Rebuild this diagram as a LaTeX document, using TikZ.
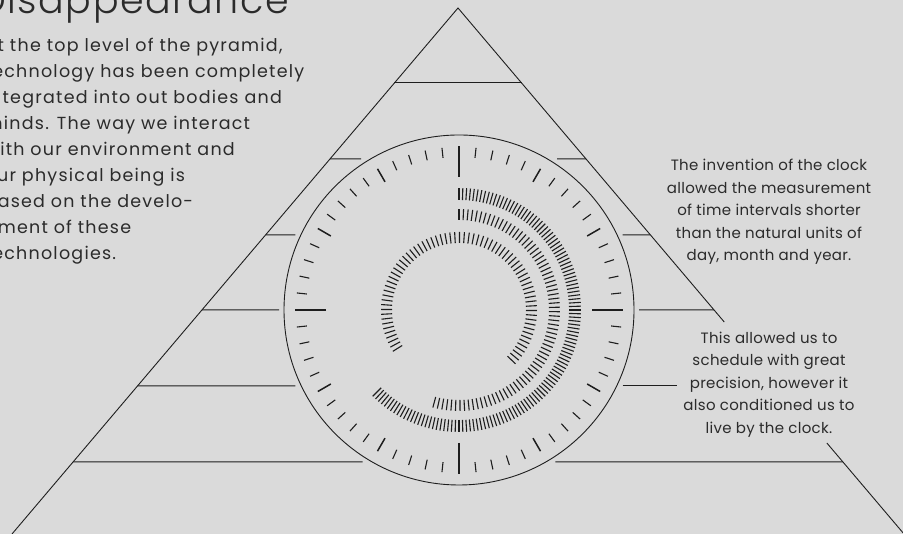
\documentclass[tikz,border=0pt]{standalone}
\usepackage{fontspec}
\setmainfont{Poppins}
\IfFontExistsTF{Poppins Light}{\newfontfamily\titlefont[LetterSpace=4]{Poppins Light}}{\newfontfamily\titlefont[LetterSpace=4]{Poppins}}
\newfontfamily\introfont[LetterSpace=7]{Poppins}
\newfontfamily\notefont[LetterSpace=2]{Poppins}
\usetikzlibrary{calc}
\definecolor{bg}{HTML}{DADADA}
\definecolor{ink}{HTML}{1E1E1E}
\definecolor{txt}{HTML}{2B2B2B}
\begin{document}
\begin{tikzpicture}[x=1pt,y=1pt,
  edge/.style={draw=ink, line width=0.9pt},
  level/.style={draw=ink, line width=1pt},
  dial/.style={draw=ink, line width=0.9pt},
  tickmin/.style={draw=ink, line width=1.1pt},
  tickmaj/.style={draw=ink, line width=1.5pt},
  tickring/.style={draw=ink, line width=1.1pt},
  para/.style={text=txt, inner sep=0pt},
]
\useasboundingbox (0,0) rectangle (903,534);
\fill[bg] (0,0) rectangle (903,534);
\clip (0,0) rectangle (903,534);
% pyramid
\coordinate (apex) at (458,526);
\coordinate (bl) at (12,0);
\coordinate (br) at (904,0);
\coordinate (c) at (459,224);
\draw[edge] (bl) -- (apex) -- ($(apex)!0.597!(br)$);
\draw[edge] ($(apex)!0.827!(br)$) -- (br);
% levels
\draw[level] ($(apex)!0.1426!(bl)$) -- ($(apex)!0.1426!(br)$);
\foreach \L/\w in {159/98,235/163.6,310/180,462/96.4} {
  \pgfmathsetmacro\t{(\L-8)/526}
  \draw[level] ($(apex)!\t!(bl)$) -- (459-\w, 534-\L);
  \draw[level] (459+\w,534-\L) -- ($(apex)!\t!(br)$);
}
\pgfmathsetmacro\t{(386-8)/526}
\draw[level] ($(apex)!\t!(bl)$) -- (295.4, 148);
\draw[level] (622.6,148) -- (677,148);
% clock
\draw[dial] (c) circle (175);
\foreach \a in {0,90,180,270} \draw[tickmin] ($(c)+(\a:133)$) -- ($(c)+(\a:164)$);
\foreach \a in {30,60,120,150,210,240,300,330} \draw[tickmaj] ($(c)+(\a:148)$) -- ($(c)+(\a:163)$);
\foreach \k in {0,...,59} {
  \pgfmathtruncatemacro\m{mod(\k,5)}
  \ifnum\m>0 \draw[tickmin] ($(c)+(6*\k:153)$) -- ($(c)+(6*\k:163)$); \fi
}
% rings
\foreach \k in {0,...,125} {\pgfmathsetmacro\a{90-1.8*\k}
  \draw[tickring] ($(c)+(\a:110)$) -- ($(c)+(\a:122)$);}
\foreach \k in {0,...,75} {\pgfmathsetmacro\a{90-2.6*\k}
  \draw[tickring] ($(c)+(\a:90)$) -- ($(c)+(\a:101)$);}
\foreach \k in {0,...,71} {\pgfmathsetmacro\a{212-3.6*\k}
  \draw[tickring] ($(c)+(\a:67)$) -- ($(c)+(\a:78)$);}
% texts
\node[para, anchor=base west, font=\titlefont\fontsize{38}{38}\selectfont] (title) at (-21,520) {Disappearance};
\node[para, anchor=base west, align=left, font=\introfont\fontsize{17.5}{26}\selectfont] (intro) at (-15.5,274.6) {At the top level of the pyramid,\\technology has been completely\\integrated into out bodies and\\minds. The way we interact\\with our environment and\\our physical being is\\based on the develo-\\pment of these\\technologies.};
\node[para, anchor=base, align=center, font=\notefont\fontsize{15}{22.5}\selectfont] (clocktext) at (769,273.2) {The invention of the clock\\allowed the measurement\\of time intervals shorter\\than the natural units of\\day, month and year.};
\node[para, anchor=base, align=center, font=\notefont\fontsize{15}{22.5}\selectfont] (schedtext) at (769,100.9) {This allowed us to\\schedule with great\\precision, however it\\also conditioned us to\\live by the clock.};
\end{tikzpicture}
\end{document}
